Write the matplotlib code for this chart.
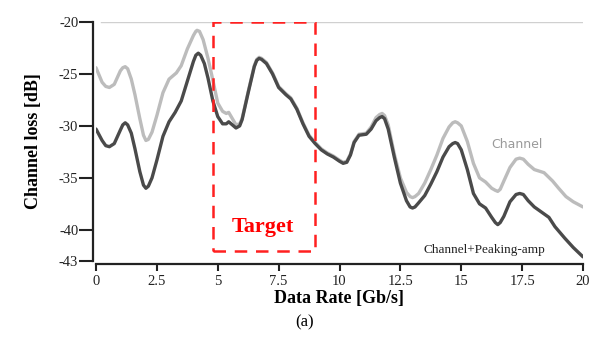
import numpy as np
import matplotlib
matplotlib.use('Agg')
import matplotlib.pyplot as plt
from matplotlib.patches import Rectangle

plt.rcParams['font.family'] = ['Liberation Serif', 'DejaVu Serif']
plt.rcParams['axes.unicode_minus'] = False

# ── data ──────────────────────────────────────────────────────────────────
amp_x = [0, 0.25, 0.4, 0.55, 0.75, 1.0, 1.1, 1.2, 1.3, 1.45, 1.6, 1.8, 1.95,
         2.05, 2.15, 2.3, 2.5, 2.75, 3.0, 3.25, 3.5, 3.75, 4.0, 4.1, 4.2, 4.3,
         4.45, 4.6, 4.8, 5.0, 5.2, 5.35, 5.45, 5.6, 5.75, 5.9, 6.0, 6.25, 6.5,
         6.6, 6.7, 6.8, 7.0, 7.25, 7.5, 7.8, 8.0, 8.25, 8.5, 8.75, 9.0, 9.25,
         9.5, 9.75, 10.0, 10.15, 10.3, 10.45, 10.6, 10.8, 11.1, 11.3, 11.5,
         11.65, 11.75, 11.85, 12.0, 12.25, 12.5, 12.75, 12.9, 13.0, 13.1, 13.25,
         13.5, 13.75, 14.0, 14.25, 14.5, 14.65, 14.75, 14.85, 15.0, 15.25, 15.5,
         15.75, 16.0, 16.25, 16.4, 16.5, 16.6, 16.75, 17.0, 17.25, 17.4, 17.55,
         17.75, 18.0, 18.3, 18.6, 18.85, 19.25, 19.6, 20.0]
amp_y = [-30.3, -31.4, -31.9, -32.0, -31.7, -30.4, -29.9, -29.7, -29.9, -30.7,
         -32.2, -34.4, -35.7, -36.0, -35.8, -35.0, -33.3, -31.0, -29.6, -28.7,
         -27.6, -25.7, -23.8, -23.2, -23.0, -23.2, -24.0, -25.4, -27.6, -29.1,
         -29.8, -29.8, -29.6, -29.9, -30.2, -30.0, -29.4, -26.8, -24.3, -23.7,
         -23.5, -23.6, -24.0, -25.0, -26.3, -27.0, -27.4, -28.4, -29.8, -31.0,
         -31.7, -32.3, -32.7, -33.0, -33.4, -33.6, -33.5, -32.8, -31.6, -30.9,
         -30.8, -30.3, -29.5, -29.2, -29.1, -29.3, -30.3, -33.0, -35.5, -37.2,
         -37.8, -37.9, -37.8, -37.4, -36.7, -35.6, -34.4, -33.0, -32.0, -31.7,
         -31.6, -31.7, -32.3, -34.2, -36.5, -37.5, -37.9, -38.8, -39.3, -39.5,
         -39.3, -38.7, -37.3, -36.6, -36.5, -36.6, -37.2, -37.8, -38.3, -38.8,
         -39.7, -40.8, -41.7, -42.6]

ch_x = [0, 0.25, 0.4, 0.55, 0.75, 1.0, 1.1, 1.2, 1.3, 1.45, 1.6, 1.8, 1.95,
        2.05, 2.15, 2.3, 2.5, 2.75, 3.0, 3.3, 3.5, 3.75, 4.0, 4.1, 4.15, 4.25,
        4.4, 4.6, 4.8, 5.0, 5.2, 5.35, 5.45, 5.6, 5.75, 5.9, 6.0, 6.25, 6.5,
        6.6, 6.7, 6.8, 7.0, 7.25, 7.5, 7.8, 8.0, 8.25, 8.5, 8.75, 9.0, 9.25,
        9.5, 9.75, 10.0, 10.15, 10.3, 10.45, 10.6, 10.8, 11.1, 11.3, 11.5,
        11.65, 11.75, 11.85, 12.0, 12.25, 12.5, 12.75, 12.9, 13.0, 13.1, 13.25,
        13.5, 13.75, 14.0, 14.25, 14.5, 14.65, 14.75, 14.85, 15.0, 15.25, 15.5,
        15.75, 16.0, 16.25, 16.4, 16.5, 16.6, 16.75, 17.0, 17.25, 17.4, 17.55,
        17.75, 18.0, 18.4, 18.75, 19.0, 19.3, 19.6, 20.0]
ch_y = [-24.4, -25.8, -26.2, -26.3, -26.0, -24.7, -24.4, -24.3, -24.5, -25.5,
        -27.0, -29.3, -30.9, -31.4, -31.3, -30.6, -29.0, -26.8, -25.5, -24.9,
        -24.2, -22.6, -21.3, -20.9, -20.8, -20.9, -21.7, -23.5, -25.6, -27.8,
        -28.6, -28.8, -28.7, -29.3, -29.9, -29.8, -29.3, -26.7, -24.2, -23.6,
        -23.4, -23.5, -23.9, -24.9, -26.2, -26.9, -27.3, -28.3, -29.7, -30.9,
        -31.6, -32.2, -32.6, -32.9, -33.3, -33.5, -33.4, -32.7, -31.5, -30.8,
        -30.7, -30.1, -29.2, -28.9, -28.8, -29.0, -29.9, -32.7, -35.0, -36.4,
        -36.8, -36.9, -36.8, -36.5, -35.5, -34.2, -32.8, -31.2, -30.1, -29.7,
        -29.6, -29.7, -30.0, -31.5, -33.6, -35.0, -35.4, -36.0, -36.2, -36.3,
        -36.1, -35.3, -34.0, -33.2, -33.1, -33.2, -33.7, -34.2, -34.5, -35.3,
        -36.0, -36.8, -37.3, -37.8]

xticks = [0, 2.5, 5, 7.5, 10, 12.5, 15, 17.5, 20]
xtick_labels = ['0', '2.5', '5', '7.5', '10', '12.5', '15', '17.5', '20']
yticks = [-20, -25, -30, -35, -40, -43]
ytick_labels = ['-20', '-25', '-30', '-35', '-40', '-43']

target_x = (4.8, 9.0)
target_y = (-42.0, -20.0)

# ── plot ──────────────────────────────────────────────────────────────────
fig = plt.figure(figsize=(5.94, 3.51), dpi=100, facecolor='white')
ax = fig.add_axes([96 / 594, 1 - 261 / 351, 487 / 594, 239 / 351])

ax.axhline(-20, xmin=0.01, xmax=1.0, color='#d0d0d0', lw=1.0, zorder=1)

ax.plot(ch_x, ch_y, color='#bcbcbc', lw=2.4, solid_joinstyle='round',
        solid_capstyle='round', zorder=3)
ax.plot(amp_x, amp_y, color='#4a4a4a', lw=2.4, solid_joinstyle='round',
        solid_capstyle='round', zorder=4)

box = Rectangle((target_x[0], target_y[0]), target_x[1] - target_x[0],
                target_y[1] - target_y[0], fill=False, edgecolor='#ff2020',
                lw=1.8, linestyle=(0, (5, 3.5)), zorder=5)
ax.add_patch(box)
ax.text(6.85, -39.7, 'Target', color='#ff0000', fontsize=16,
        fontweight='bold', ha='center', va='center', zorder=6)

ax.text(17.3, -31.8, 'Channel', color='#9a9a9a', fontsize=9,
        family=['Liberation Sans Narrow', 'DejaVu Sans'],
        ha='center', va='center')
ax.text(15.95, -41.9, 'Channel+Peaking-amp', color='#222222', fontsize=9.5,
        ha='center', va='center')

ax.set_xlim(0, 20)
ax.set_ylim(-43, -20)
ax.set_xticks(xticks)
ax.set_xticklabels(xtick_labels)
ax.set_yticks(yticks)
ax.set_yticklabels(ytick_labels)
ax.tick_params(labelsize=10.5, width=1.5, colors='#222222')
ax.tick_params(axis='y', length=10, pad=0.5)
ax.tick_params(axis='x', length=5, pad=3)

for s in ['top', 'right']:
    ax.spines[s].set_visible(False)
for s in ['left', 'bottom']:
    ax.spines[s].set_position(('outward', 2.2))
    ax.spines[s].set_linewidth(1.6)
    ax.spines[s].set_color('#222222')

ax.set_xlabel('Data Rate [Gb/s]', fontsize=13, fontweight='bold', labelpad=1)
ax.set_ylabel('Channel loss [dB]', fontsize=13, fontweight='bold', labelpad=12)

fig.text(305 / 594, 1 - 322 / 351, '(a)', fontsize=12, ha='center', va='center')

fig.savefig('out.png', dpi=100, facecolor='white')
plt.close()
